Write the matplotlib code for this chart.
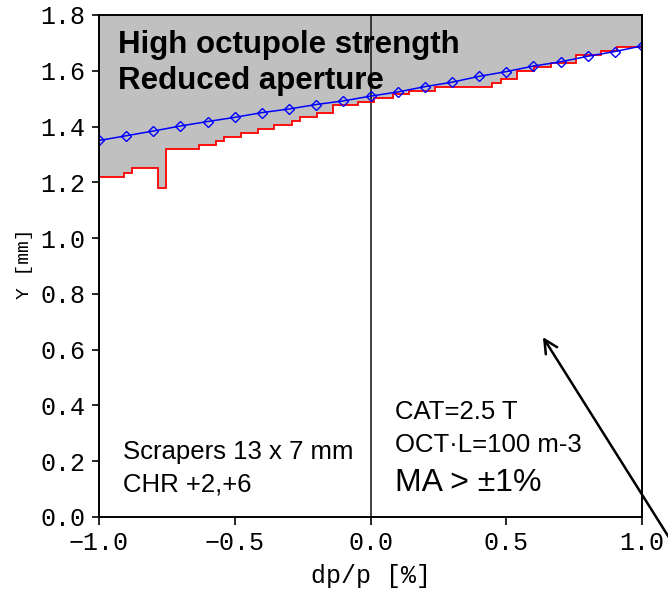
import matplotlib
matplotlib.use("Agg")
import matplotlib.pyplot as plt
import numpy as np

# Momentum deviation grid for the dynamic-aperture curve (blue)
dp_blue = [-1.0, -0.9, -0.8, -0.7, -0.6, -0.5, -0.4, -0.3, -0.2, -0.1, 0.0,
           0.1, 0.2, 0.3, 0.4, 0.5, 0.6, 0.7, 0.8, 0.9, 1.0]
y_blue = [1.350, 1.367, 1.384, 1.402, 1.418, 1.433, 1.450, 1.463, 1.479, 1.492,
          1.509, 1.524, 1.543, 1.559, 1.580, 1.597, 1.617, 1.632, 1.652, 1.669, 1.689]

# Tracked aperture with scrapers (red staircase): bin edges and levels
dp_edges = [-1.0, -0.907, -0.877, -0.784, -0.754, -0.631, -0.569, -0.539, -0.477,
            -0.413, -0.355, -0.290, -0.260, -0.198, -0.137, -0.045, 0.014, 0.084,
            0.143, 0.238, 0.446, 0.479, 0.541, 0.602, 0.664, 0.756, 0.848, 0.909, 1.0]
y_red = [1.220, 1.235, 1.250, 1.178, 1.318, 1.334, 1.348, 1.361, 1.376, 1.390,
         1.406, 1.420, 1.433, 1.447, 1.477, 1.489, 1.504, 1.517, 1.529, 1.543,
         1.557, 1.570, 1.600, 1.614, 1.628, 1.657, 1.670, 1.684]

x_ticks = [-1.0, -0.5, 0.0, 0.5, 1.0]
y_ticks = [0.0, 0.2, 0.4, 0.6, 0.8, 1.0, 1.2, 1.4, 1.6, 1.8]

mono = "Liberation Mono"
sans = "Liberation Sans"

W, H = 668, 590
fig = plt.figure(figsize=(W / 100, H / 100), dpi=100)
ax = fig.add_axes([99 / W, 1 - 517 / H, (642 - 99) / W, (517 - 15) / H])

ymax = 1.8
# Lost region above the staircase
xs = np.repeat(dp_edges, 2)[1:-1]
ys = np.repeat(y_red, 2)
ax.fill_between(xs, ys, ymax, color="#c0c0c0", lw=0, zorder=1)
ax.stairs(y_red, dp_edges, color="red", lw=1.3, zorder=3)

ax.plot(dp_blue, y_blue, color="blue", lw=1.1, marker="D", ms=5,
        mfc="none", mec="blue", mew=1.0, zorder=4)

ax.axvline(0.0, color="#202020", lw=1.2, zorder=2)

ax.set_xlim(-1.0, 1.0)
ax.set_ylim(0.0, ymax)
ax.set_xticks(x_ticks)
ax.set_yticks(y_ticks)
ax.set_xticklabels([f"{v:.1f}".replace("-", "\u2212") for v in x_ticks],
                   fontfamily=mono, fontsize=18)
ax.set_yticklabels([f"{v:.1f}" for v in y_ticks], fontfamily=mono, fontsize=18)
ax.tick_params(axis="x", direction="out", length=6, width=1.2, pad=4)
ax.tick_params(axis="y", direction="out", length=5, width=1.2, pad=5)
for s in ax.spines.values():
    s.set_linewidth(1.4)
    s.set_zorder(5)

fig.text(371 / W, 1 - 576 / H, "dp/p [%]", fontfamily=mono, fontsize=18,
         ha="center", va="center")
fig.text(25 / W, 1 - 264 / H, "Y [mm]", fontfamily=mono, fontsize=14,
         ha="center", va="center", rotation=90)

ax.text(-0.930, 1.664, "High octupole strength", fontfamily=sans,
        fontweight="bold", fontsize=22.5, va="baseline", ha="left", zorder=6)
ax.text(-0.930, 1.535, "Reduced aperture", fontfamily=sans,
        fontweight="bold", fontsize=22.5, va="baseline", ha="left", zorder=6)

ax.text(-0.913, 0.208, "Scrapers 13 x 7 mm", fontfamily=sans, fontsize=18.5,
        va="baseline", ha="left", zorder=6)
ax.text(-0.913, 0.093, "CHR +2,+6", fontfamily=sans, fontsize=18.5,
        va="baseline", ha="left", zorder=6)
ax.text(0.090, 0.350, "CAT=2.5 T", fontfamily=sans, fontsize=18.5,
        va="baseline", ha="left", zorder=6)
ax.text(0.090, 0.234, "OCT\u00b7L=100 m-3", fontfamily=sans, fontsize=18.5,
        va="baseline", ha="left", zorder=6)
ax.text(0.090, 0.094, "MA > \u00b11%", fontfamily=sans, fontsize=23,
        va="baseline", ha="left", zorder=6)

ax.annotate("", xy=(0.635, 0.645), xytext=(1.33, -0.43),
            arrowprops=dict(arrowstyle="->", color="black", lw=1.8,
                            mutation_scale=24, shrinkA=0, shrinkB=0),
            annotation_clip=False, zorder=7)

fig.savefig("out.png", dpi=100)
